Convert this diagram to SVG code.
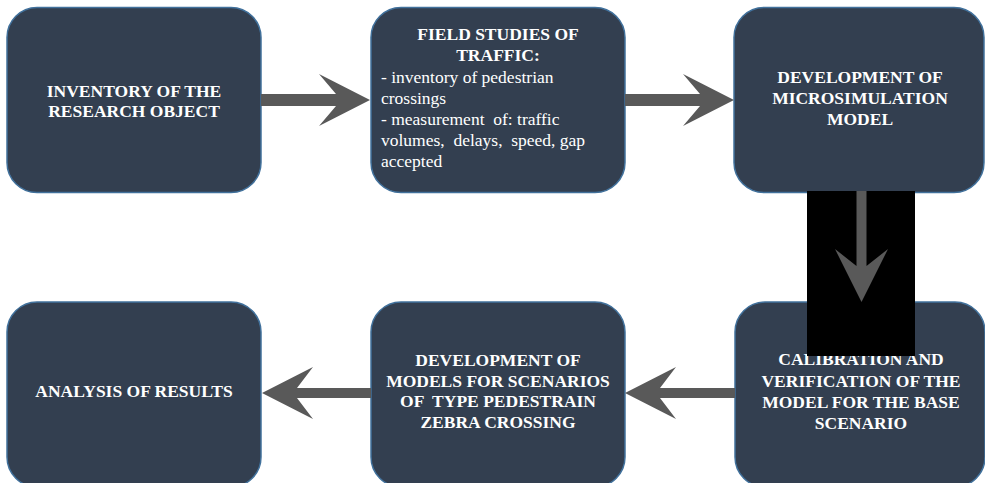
<svg xmlns="http://www.w3.org/2000/svg" width="985" height="483" viewBox="0 0 985 483">
<style>
.box{fill:#333F50;stroke:#41719C;stroke-width:1.5}
.b{font-family:"Liberation Serif","Times New Roman",serif;font-weight:bold;font-size:17.5px;fill:#ffffff;text-anchor:middle}
.r{font-family:"Liberation Serif","Times New Roman",serif;font-size:17.5px;fill:#ffffff;white-space:pre}
.arr{fill:#595959}
</style>
<rect width="985" height="483" fill="#ffffff"/>
<g id="n1"><rect class="box" x="7" y="7.5" width="254" height="185" rx="30"/>
<text class="b" x="134" y="97">INVENTORY OF THE</text><text class="b" x="134" y="117">RESEARCH OBJECT</text></g>
<g id="n2"><rect class="box" x="371" y="7.5" width="254" height="185" rx="30"/>
<text class="b" x="498" y="40">FIELD STUDIES OF</text><text class="b" x="498" y="61">TRAFFIC:</text>
<text class="r" x="381" y="83">- inventory of pedestrian</text>
<text class="r" x="381" y="104">crossings</text>
<text class="r" x="381" y="125">- measurement  of: traffic</text>
<text class="r" x="381" y="146">volumes,  delays,  speed, gap</text>
<text class="r" x="381" y="167">accepted</text></g>
<g id="n3"><rect class="box" x="734" y="7.5" width="250" height="185" rx="30"/>
<text class="b" x="860" y="83">DEVELOPMENT OF</text><text class="b" x="860" y="104">MICROSIMULATION</text><text class="b" x="860" y="125">MODEL</text></g>
<g id="n4"><rect class="box" x="735" y="302" width="250" height="185" rx="30"/>
<text class="b" x="861" y="365">CALIBRATION AND</text><text class="b" x="861" y="387">VERIFICATION OF THE</text><text class="b" x="861" y="408">MODEL FOR THE BASE</text><text class="b" x="861" y="429">SCENARIO</text></g>
<g id="n5"><rect class="box" x="371" y="302" width="254" height="185" rx="30"/>
<text class="b" x="498" y="366">DEVELOPMENT OF</text><text class="b" x="498" y="387">MODELS FOR SCENARIOS</text><text class="b" x="498" y="407" style="white-space:pre">OF  TYPE PEDESTRAIN</text><text class="b" x="498" y="428">ZEBRA CROSSING</text></g>
<g id="n6"><rect class="box" x="7" y="302" width="254" height="185" rx="30"/>
<text class="b" x="134" y="397">ANALYSIS OF RESULTS</text></g>
<rect x="807" y="191" width="108" height="165" fill="#000000"/>
<g id="connectors">
<polygon class="arr" points="261,94 336,94 319,74 370,100 319,126 336,106 261,106"/>
<polygon class="arr" points="625,94 700,94 683,74 734,100 683,126 700,106 625,106"/>
<polygon class="arr" points="856.5,191 866.5,191 866.5,266 888,249 861.5,302 835,249 856.5,266"/>
<polygon class="arr" points="735,388 660,388 676,367 625,393 676,419 660,398 735,398"/>
<polygon class="arr" points="371,388 297,388 313,367 262,393 313,419 297,398 371,398"/>
</g>
</svg>
